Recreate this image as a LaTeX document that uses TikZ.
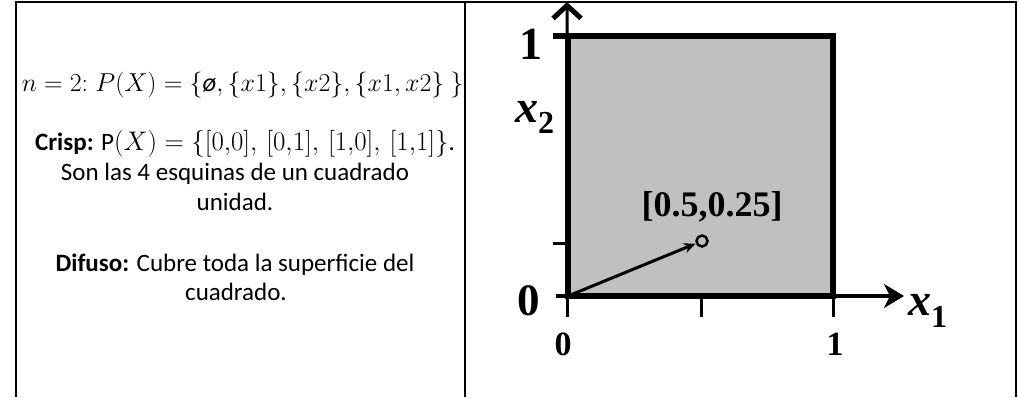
\documentclass[tikz,border=0pt]{standalone}
\usepackage{fontspec}
\usepackage{graphicx}
\setmainfont{Carlito}
\newfontfamily\tnr{Liberation Serif}
\usetikzlibrary{arrows.meta}
\definecolor{sqgrey}{RGB}{192,192,192}
\begin{document}
\begin{tikzpicture}[x=1pt,y=-1pt,
  tline/.style={line width=2pt,black},
  txt/.style={anchor=base,inner sep=0pt,font=\fontsize{25}{30}\selectfont},
  lab/.style={anchor=base,inner sep=0pt},
  axis/.style={line width=3pt,black},
  tick/.style={line width=3pt,black}]
\useasboundingbox (0,0) rectangle (1018,397);
% table frame
\coordinate (bl) at (16,397);
\coordinate (tl) at (16,2);
\coordinate (tr) at (1016,2);
\coordinate (br) at (1016,397);
\coordinate (mt) at (465,2);
\coordinate (mb) at (465,397);
\draw[tline] (bl) -- (tl) -- (tr) -- (br);
\draw[tline] (mt) -- (mb);
% left texts
\node[txt] (l1) at (242.5,91) {\scalebox{1.04}{$n=2{:}\;P(X)=\{\mbox{\itshape ø},\{x1\},\{x2\},\{x1,x2\}\ \}$}};
\node[txt] (l2) at (245,150) {\textbf{Crisp:} P\scalebox{1.08}{$(X)=\{[0{,}0],\,[0{,}1],\,[1{,}0],\,[1{,}1]\}$}.};
\node[txt] (l3) at (235,180) {Son las 4 esquinas de un cuadrado};
\node[txt] (l4) at (235,210) {unidad.};
\node[txt] (l5) at (235,271) {\textbf{Difuso:} Cubre toda la superficie del};
\node[txt] (l6) at (236,300) {cuadrado.};
% plot
\coordinate (O) at (568,296);
\coordinate (A) at (833,36);
\coordinate (ytop) at (567,2);
\coordinate (xend) at (904,296);
\fill[sqgrey] (O) rectangle (A);
\draw[axis,-{Straight Barb[length=13pt,width=28pt,line width=5pt]}] (O) -- (ytop);
\draw[line width=6.5pt] (O) rectangle (A);
\coordinate (t1a) at (553,36); \coordinate (t1b) at (568,36);
\coordinate (t2a) at (553,243); \coordinate (t2b) at (568,243);
\draw[line width=6pt] (t1a) -- (t1b);
\draw[tick] (t2a) -- (t2b);
\coordinate (xs) at (556,296);
\draw[line width=4pt,-{Stealth[length=20pt,width=24pt,inset=6pt]}] (xs) -- (xend);
\coordinate (b0a) at (567,296); \coordinate (b0b) at (567,317);
\coordinate (bha) at (701,296); \coordinate (bhb) at (701,317);
\coordinate (b1a) at (833,296); \coordinate (b1b) at (833,317);
\draw[tick] (b0a) -- (b0b);
\draw[tick] (bha) -- (bhb);
\draw[tick] (b1a) -- (b1b);
\node[circle,draw,line width=2.5pt,minimum size=11pt,inner sep=0pt] (P) at (702,241) {};
\draw[line width=3pt,-{Stealth[length=12pt,width=10pt]}] (O) -- (P);
% labels
\node[lab] (one) at (531,59) {\tnr\bfseries\fontsize{46}{46}\selectfont 1};
\node[lab] (zero) at (529,315) {\tnr\bfseries\fontsize{45}{45}\selectfont 0};
\node[lab,anchor=base west] (x2) at (515,122) {\tnr\bfseries\itshape\fontsize{46}{46}\selectfont x\raisebox{-11pt}{\upshape\fontsize{32}{32}\selectfont 2}};
\node[lab,anchor=base west] (x1) at (908,315) {\tnr\bfseries\itshape\fontsize{46}{46}\selectfont x\raisebox{-12pt}{\upshape\fontsize{32}{32}\selectfont 1}};
\node[lab] (bz) at (563,355) {\tnr\bfseries\fontsize{34}{34}\selectfont 0};
\node[lab] (bo) at (835,355) {\tnr\bfseries\fontsize{34}{34}\selectfont 1};
\node[lab] (pt) at (712,216) {\tnr\bfseries\fontsize{36}{36}\selectfont [0.5,0.25]};
\end{tikzpicture}
\end{document}
